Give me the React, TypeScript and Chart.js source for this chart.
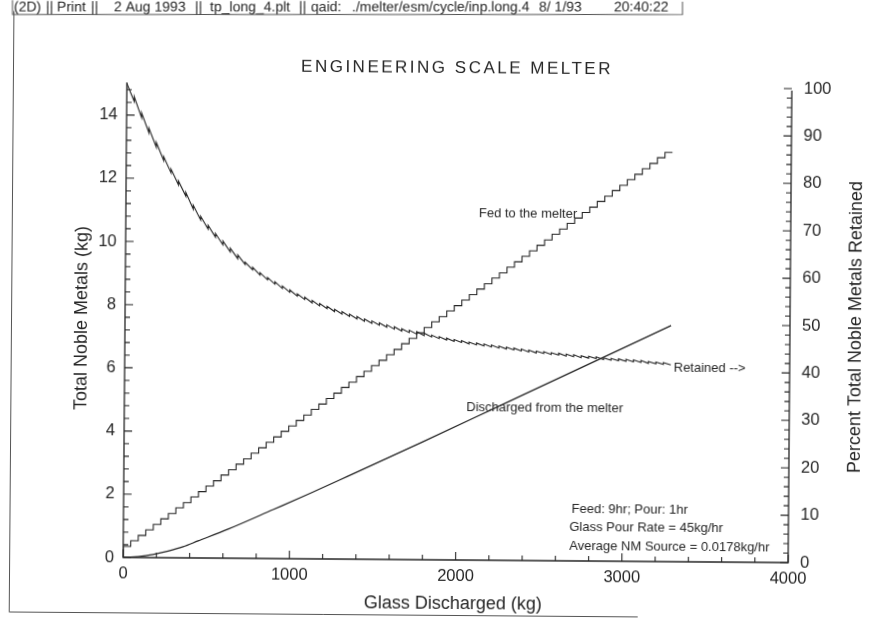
import React, { useEffect, useRef } from "react";
import { Chart, registerables } from "chart.js";

Chart.register(...registerables);

// Glass discharged (kg) at the start of each feed/pour cycle (45 kg poured per cycle)
const cycleGlass = [
  0, 45, 90, 135, 180, 225, 270, 315, 360, 405, 450, 495, 540, 585, 630, 675, 720, 765, 810, 855,
  900, 945, 990, 1035, 1080, 1125, 1170, 1215, 1260, 1305, 1350, 1395, 1440, 1485, 1530, 1575, 1620,
  1665, 1710, 1755, 1800, 1845, 1890, 1935, 1980, 2025, 2070, 2115, 2160, 2205, 2250, 2295, 2340,
  2385, 2430, 2475, 2520, 2565, 2610, 2655, 2700, 2745, 2790, 2835, 2880, 2925, 2970, 3015, 3060,
  3105, 3150, 3195, 3240, 3285,
];

// Cumulative noble metals fed (kg) once each cycle's feed period is complete
const fedStart = 0;
const fedToMelter = [
  0.18, 0.35, 0.53, 0.7, 0.88, 1.05, 1.23, 1.4, 1.58, 1.75, 1.93, 2.1, 2.28, 2.45, 2.63, 2.8, 2.98,
  3.15, 3.33, 3.5, 3.68, 3.85, 4.03, 4.2, 4.38, 4.55, 4.73, 4.9, 5.08, 5.25, 5.43, 5.6, 5.78, 5.95,
  6.13, 6.3, 6.48, 6.65, 6.83, 7.0, 7.18, 7.35, 7.53, 7.7, 7.88, 8.05, 8.23, 8.4, 8.58, 8.75, 8.93,
  9.1, 9.28, 9.45, 9.63, 9.8, 9.98, 10.15, 10.33, 10.5, 10.68, 10.85, 11.03, 11.2, 11.38, 11.55,
  11.73, 11.9, 12.08, 12.25, 12.43, 12.6, 12.78, 12.95,
];

// Percent retained just after each pour (before the next feed)
const retainedAfterPour = [
  100, 96.2, 92.8, 89.6, 86.6, 83.8, 81.2, 78.7, 76.3, 73.6, 71.3, 69.4, 67.7, 66.1, 64.6, 63.2,
  62.0, 60.9, 59.8, 58.8, 57.9, 57.0, 56.2, 55.4, 54.7, 54.0, 53.4, 52.8, 52.2, 51.7, 51.2, 50.7,
  50.2, 49.8, 49.4, 49.0, 48.6, 48.2, 47.9, 47.6, 47.3, 47.0, 46.7, 46.4, 46.1, 45.9, 45.6, 45.4,
  45.2, 45.0, 44.8, 44.6, 44.4, 44.2, 44.0, 43.8, 43.7, 43.5, 43.4, 43.2, 43.1, 42.9, 42.8, 42.7,
  42.5, 42.4, 42.3, 42.2, 42.1, 42.0, 41.8, 41.7, 41.6, 41.5,
];

// Percent retained at the end of each feed period
const retainedAfterFeed = [
  100, 97.2, 93.8, 90.6, 87.6, 84.6, 82.0, 79.5, 77.1, 74.4, 72.1, 70.2, 68.5, 66.9, 65.4, 64.0,
  62.5, 61.4, 60.3, 59.3, 58.4, 57.5, 56.7, 55.9, 55.2, 54.5, 53.9, 53.3, 52.7, 52.2, 51.7, 51.2,
  50.7, 50.3, 49.9, 49.5, 49.1, 48.7, 48.4, 48.1, 47.8, 47.4, 47.1, 46.8, 46.5, 46.3, 46.0, 45.8,
  45.6, 45.4, 45.2, 45.0, 44.8, 44.6, 44.4, 44.2, 44.1, 43.9, 43.8, 43.6, 43.5, 43.3, 43.2, 43.1,
  42.9, 42.8, 42.7, 42.6, 42.5, 42.4, 42.2, 42.1, 42.0, 41.9,
];

// Cumulative noble metals discharged with the glass
const dischargedGlass = [0, 45, 90, 135, 180, 270, 360, 450, 630, 900, 1125, 1350, 1800, 2250, 2700, 3285];
const dischargedKg = [0, 0.01, 0.03, 0.06, 0.1, 0.21, 0.35, 0.54, 0.92, 1.55, 2.08, 2.63, 3.74, 4.87, 6.0, 7.47];

// Axis ticks
const xTicks = [0, 1000, 2000, 3000, 4000];
const leftTicks = [0, 2, 4, 6, 8, 10, 12, 14];
const rightTicks = [0, 10, 20, 30, 40, 50, 60, 70, 80, 90, 100];
const xMinorStep = 200;
const leftMinorStep = 0.4;
const rightMinorStep = 2;

const FONT = '"Liberation Sans", Arial, Helvetica, sans-serif';
const INK = "#262626";

const W = 884;
const H = 629;
const AREA = { left: 125, right: 790, top: 86, bottom: 560 };

// the printed sheet sits very slightly askew
const SKEW_DEG = 0.45;
const PIVOT = { x: 457, y: 323 };

const fedPoints = [
  { x: 0, y: fedStart },
  ...cycleGlass.map((x, k) => ({ x, y: fedToMelter[k] })),
];

const retainedPoints: { x: number; y: number }[] = [];
cycleGlass.forEach((x, k) => {
  retainedPoints.push({ x, y: retainedAfterPour[k] });
  if (k < cycleGlass.length - 1) retainedPoints.push({ x, y: retainedAfterFeed[k] });
});

const dischargedPoints = dischargedGlass.map((x, i) => ({ x, y: dischargedKg[i] }));

function drawText(
  ctx: CanvasRenderingContext2D,
  text: string,
  x: number,
  y: number,
  size: number,
  align: CanvasTextAlign = "left",
  rotate = 0,
  spacing = 0
) {
  ctx.save();
  ctx.translate(x, y);
  if (rotate) ctx.rotate(rotate);
  ctx.font = `${size}px ${FONT}`;
  ctx.fillStyle = INK;
  ctx.textAlign = align;
  ctx.textBaseline = "middle";
  (ctx as any).letterSpacing = `${spacing}px`;
  ctx.fillText(text, 0, 0);
  ctx.restore();
}

const furniture = {
  id: "furniture",
  afterDraw(chart: any) {
    const { ctx, chartArea: a, scales } = chart;
    const xs = scales.x;
    const yl = scales.y;
    const yr = scales.y1;
    ctx.save();
    ctx.strokeStyle = INK;
    ctx.lineWidth = 1.3;

    // axis lines: left, bottom, right
    ctx.beginPath();
    ctx.moveTo(a.left, a.top - 1);
    ctx.lineTo(a.left, a.bottom);
    ctx.lineTo(a.right, a.bottom);
    ctx.lineTo(a.right, a.top + 2);
    ctx.stroke();

    // inward tick marks
    ctx.lineWidth = 1.1;
    ctx.beginPath();
    for (let i = 0; i * xMinorStep <= 4000; i++) {
      const px = xs.getPixelForValue(i * xMinorStep);
      const len = i % 5 === 0 ? 8 : 5;
      ctx.moveTo(px, a.bottom);
      ctx.lineTo(px, a.bottom - len);
    }
    for (let i = 0; i * leftMinorStep <= 15.001; i++) {
      const py = yl.getPixelForValue(i * leftMinorStep);
      const len = i % 5 === 0 ? 8 : 5;
      ctx.moveTo(a.left, py);
      ctx.lineTo(a.left + len, py);
    }
    for (let i = 0; i * rightMinorStep <= 100; i++) {
      const py = yr.getPixelForValue(i * rightMinorStep);
      const len = i % 5 === 0 ? 8 : 5;
      ctx.moveTo(a.right, py);
      ctx.lineTo(a.right - len, py);
    }
    ctx.stroke();

    // page frame: left edge and bottom edge
    ctx.lineWidth = 1;
    ctx.strokeStyle = "#555";
    ctx.beginPath();
    ctx.moveTo(11.5, 14.5);
    ctx.lineTo(11.5, 615.5);
    ctx.lineTo(640, 615.5);
    ctx.stroke();
    ctx.restore();

    // header strip, kept level on the sheet
    ctx.save();
    ctx.translate(PIVOT.x, PIVOT.y);
    ctx.rotate((-SKEW_DEG * Math.PI) / 180);
    ctx.translate(-PIVOT.x, -PIVOT.y);
    ctx.strokeStyle = "#555";
    ctx.lineWidth = 1;
    ctx.beginPath();
    ctx.moveTo(12.5, 0);
    ctx.lineTo(12.5, 14.5);
    ctx.lineTo(682.5, 14.5);
    ctx.lineTo(682.5, 0);
    ctx.stroke();
    const header: [string, number][] = [
      ["(2D)", 14],
      ["||", 46],
      ["Print", 57],
      ["||", 91],
      ["2 Aug 1993", 114],
      ["||", 195],
      ["tp_long_4.plt", 210],
      ["||", 299],
      ["qaid:", 311],
      ["./melter/esm/cycle/inp.long.4", 352],
      ["8/ 1/93", 539],
      ["20:40:22", 614],
    ];
    header.forEach(([t, x]) => drawText(ctx, t, x, 7.5, 14));
    ctx.restore();

    // titles
    drawText(ctx, "ENGINEERING SCALE MELTER", 455, 68, 17, "center", 0, 2.5);
    drawText(ctx, "Total Noble Metals (kg)", 82, 321, 18, "center", -Math.PI / 2);
    drawText(ctx, "Percent Total Noble Metals Retained", 856, 324, 18, "center", -Math.PI / 2);
    drawText(ctx, "Glass Discharged (kg)", 455, 604, 18, "center");

    // curve labels and run notes
    drawText(ctx, "Fed to the melter", 478, 213, 13);
    drawText(ctx, "Retained -->", 674, 366, 13);
    drawText(ctx, "Discharged from the melter", 467, 407, 13);
    drawText(ctx, "Feed: 9hr; Pour: 1hr", 573, 508, 13);
    drawText(ctx, "Glass Pour Rate = 45kg/hr", 571, 526, 13);
    drawText(ctx, "Average NM Source = 0.0178kg/hr", 571, 545, 13);
  },
};

export default function App() {
  const ref = useRef<HTMLCanvasElement>(null);

  useEffect(() => {
    const canvas = ref.current;
    if (!canvas) return;
    const tickFont = { family: FONT, size: 16.5 };
    const plain = (v: number | string) => String(v);
    const chart = new Chart(canvas, {
      type: "line",
      data: {
        datasets: [
          {
            label: "Fed to the melter",
            data: fedPoints,
            yAxisID: "y",
            stepped: "after",
            borderColor: INK,
            borderWidth: 1.1,
            pointRadius: 0,
          },
          {
            label: "Discharged from the melter",
            data: dischargedPoints,
            yAxisID: "y",
            cubicInterpolationMode: "monotone",
            borderColor: INK,
            borderWidth: 1.3,
            pointRadius: 0,
          },
          {
            label: "Retained",
            data: retainedPoints,
            yAxisID: "y1",
            tension: 0,
            borderColor: INK,
            borderWidth: 1.1,
            pointRadius: 0,
          },
        ],
      },
      options: {
        animation: false,
        responsive: false,
        devicePixelRatio: 1,
        parsing: false,
        normalized: true,
        layout: { padding: { top: AREA.top, left: 0, right: 0, bottom: 0 } },
        plugins: {
          legend: { display: false },
          title: { display: false },
          tooltip: { enabled: false },
        },
        scales: {
          x: {
            type: "linear",
            min: 0,
            max: 4000,
            afterBuildTicks: (s: any) => {
              s.ticks = xTicks.map((value) => ({ value }));
            },
            afterFit: (s: any) => {
              s.height = H - AREA.bottom;
            },
            ticks: { font: tickFont, color: INK, padding: 7, maxRotation: 0, callback: plain },
            grid: { display: false, drawTicks: false },
            border: { display: false },
          },
          y: {
            type: "linear",
            position: "left",
            min: 0,
            max: 15,
            afterBuildTicks: (s: any) => {
              s.ticks = leftTicks.map((value) => ({ value }));
            },
            afterFit: (s: any) => {
              s.width = AREA.left;
            },
            ticks: { font: tickFont, color: INK, padding: 9, callback: plain },
            grid: { display: false, drawTicks: false },
            border: { display: false },
          },
          y1: {
            type: "linear",
            position: "right",
            min: 0,
            max: 100,
            afterBuildTicks: (s: any) => {
              s.ticks = rightTicks.map((value) => ({ value }));
            },
            afterFit: (s: any) => {
              s.width = W - AREA.right;
            },
            ticks: { font: tickFont, color: INK, padding: 12, callback: plain },
            grid: { display: false, drawTicks: false },
            border: { display: false },
          },
        },
      },
      plugins: [furniture],
    } as any);
    return () => chart.destroy();
  }, []);

  return (
    <div
      style={{
        position: "absolute",
        left: 0,
        top: 0,
        width: W,
        height: H,
        background: "#fff",
        overflow: "hidden",
      }}
    >
      <canvas
        ref={ref}
        width={W}
        height={H}
        style={{
          display: "block",
          transform: `rotate(${SKEW_DEG}deg)`,
          transformOrigin: `${PIVOT.x}px ${PIVOT.y}px`,
        }}
      />
    </div>
  );
}
